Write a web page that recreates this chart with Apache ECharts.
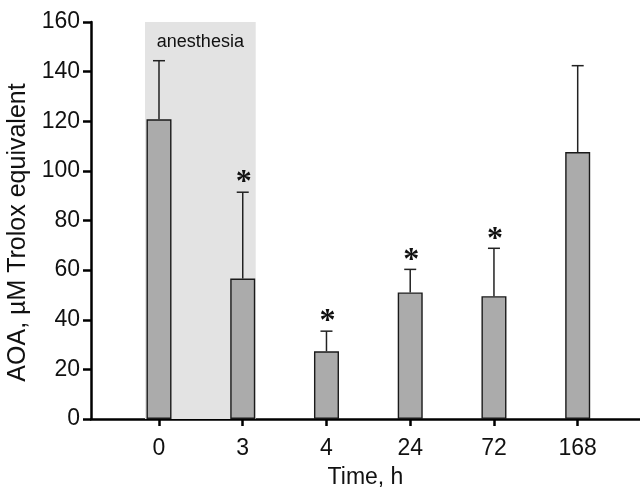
<!DOCTYPE html>
<html>
<head>
<meta charset="utf-8">
<script src="https://cdn.jsdelivr.net/npm/echarts@6/dist/echarts.min.js"></script>
<style>
  html, body { margin: 0; padding: 0; background: #fff; }
  #chart { width: 640px; height: 496px; }
</style>
</head>
<body>
<div id="chart"></div>
<script>
// time points (h) and measured AOA
const timeLabels = ['0', '3', '4', '24', '72', '168']
const aoaMean = [120.8, 56.6, 27.3, 51.0, 49.5, 107.6]
const aoaSD = [23.6, 34.8, 8.1, 9.3, 19.3, 34.8]
const stars = ['', '*', '*', '*', '*', '']

const font = '"Liberation Sans", Arial, Helvetica, sans-serif'

const chart = echarts.init(document.getElementById('chart'), null, { renderer: 'canvas' })

const barData = aoaMean.map((v, i) => [i, v])
const errData = aoaMean.map((v, i) => [i, v, v + aoaSD[i]])

chart.setOption({
  animation: false,
  grid: { left: 91, right: 0, top: 22, bottom: 77, outerBoundsMode: 'none', containLabel: false },
  xAxis: {
    type: 'value',
    min: -0.812,
    max: 5.744,
    name: 'Time, h',
    nameLocation: 'middle',
    nameGap: 47,
    nameTextStyle: { color: '#111', fontSize: 23, fontFamily: font },
    axisLine: { onZero: false, lineStyle: { color: '#000', width: 2.5 } },
    axisTick: { show: true, length: 7, lineStyle: { color: '#000', width: 2.5 }, customValues: timeLabels.map((_, i) => i) },
    axisLabel: {
      customValues: timeLabels.map((_, i) => i),
      formatter: v => timeLabels[Math.round(v)],
      color: '#111', fontSize: 23, fontFamily: font, margin: 18
    },
    splitLine: { show: false }
  },
  yAxis: {
    type: 'value',
    min: 0,
    max: 160,
    interval: 20,
    name: 'AOA, \u00b5M Trolox equivalent',
    nameLocation: 'middle',
    nameGap: 58,
    nameRotate: 90,
    nameTextStyle: { color: '#111', fontSize: 25, fontFamily: font, padding: [0, 24, 0, 0] },
    axisLine: { show: true, onZero: false, lineStyle: { color: '#000', width: 2.5 } },
    axisTick: { show: true, length: 8, lineStyle: { color: '#000', width: 2.5 } },
    axisLabel: { color: '#111', fontSize: 23, fontFamily: font, margin: 11 },
    splitLine: { show: false }
  },
  series: [
    {
      type: 'bar',
      data: barData,
      barWidth: 25,
      itemStyle: { color: '#ababab', borderColor: '#1a1a1a', borderWidth: 1.4 },
      z: 3,
      markArea: {
        silent: true,
        itemStyle: { color: '#e3e3e3' },
        label: {
          show: true, position: 'insideTop', distance: 11,
          color: '#111', fontSize: 18, fontFamily: font
        },
        data: [[
          { name: 'anesthesia', xAxis: -0.167, yAxis: 0 },
          { xAxis: 1.155, yAxis: 160 }
        ]]
      }
    },
    {
      type: 'custom',
      data: errData,
      z: 2,
      renderItem: (params, api) => {
        const x = api.value(0)
        const base = api.coord([x, api.value(1)])
        const top = api.coord([x, api.value(2)])
        const cap = 6
        const children = [
          { type: 'line', shape: { x1: top[0], y1: base[1], x2: top[0], y2: top[1] }, style: { stroke: '#222', lineWidth: 1.5 } },
          { type: 'line', shape: { x1: top[0] - cap, y1: top[1], x2: top[0] + cap, y2: top[1] }, style: { stroke: '#222', lineWidth: 1.5 } }
        ]
        const s = stars[params.dataIndex]
        if (s) {
          children.push({
            type: 'text',
            style: {
              text: s, x: top[0] + 1, y: top[1] - 9,
              align: 'center', verticalAlign: 'middle',
              fontSize: 32, fontWeight: 'bold',
              fontFamily: '"Liberation Serif", "Times New Roman", serif', fill: '#111'
            }
          })
        }
        return { type: 'group', children }
      }
    }
  ]
})
</script>
</body>
</html>
